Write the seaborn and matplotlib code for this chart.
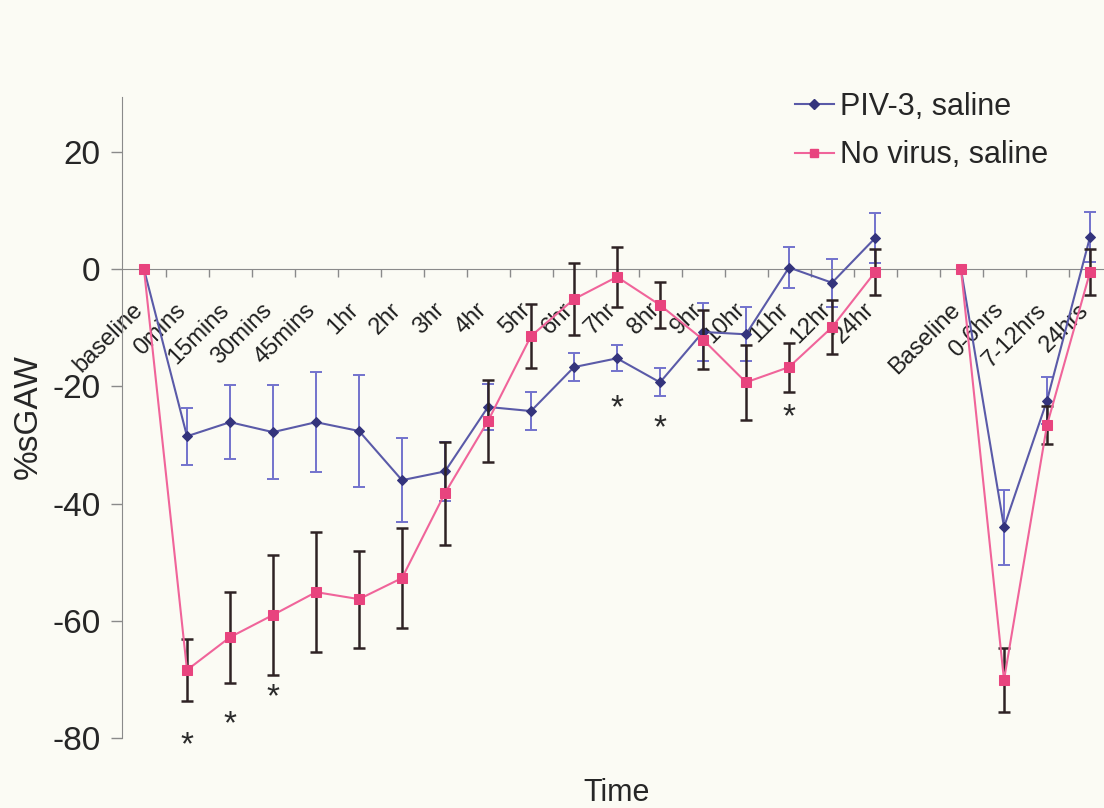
import numpy as np
import pandas as pd
import seaborn as sns
import matplotlib.pyplot as plt
from matplotlib.lines import Line2D

# dados (índice 18 é o espaço vazio entre os dois grupos)
categorias = ["baseline", "0mins", "15mins", "30mins", "45mins", "1hr", "2hr", "3hr",
              "4hr", "5hr", "6hr", "7hr", "8hr", "9hr", "10hr", "11hr", "12hr", "24hr",
              "", "Baseline", "0-6hrs", "7-12hrs", "24hrs"]
trecho = [0] * 18 + [-1] + [1] * 4

piv = [0, -28.5, -26.1, -27.8, -26.1, -27.6, -36.0, -34.5, -23.5, -24.2, -16.7, -15.2,
       -19.3, -10.7, -11.1, 0.3, -2.3, 5.3, np.nan, 0, -44.0, -22.4, 5.5]
piv_err = [0, 4.9, 6.3, 8.0, 8.5, 9.6, 7.2, 5.0, 4.0, 3.3, 2.4, 2.2,
           2.4, 4.9, 4.6, 3.5, 4.1, 4.3, np.nan, 0, 6.4, 4.0, 4.3]

sem_virus = [0, -68.4, -62.8, -59.0, -55.1, -56.3, -52.7, -38.2, -25.9, -11.4, -5.1, -1.3,
             -6.1, -12.0, -19.3, -16.7, -9.9, -0.5, np.nan, 0, -70.1, -26.6, -0.5]
sem_virus_err = [0, 5.3, 7.8, 10.2, 10.2, 8.3, 8.5, 8.8, 7.0, 5.4, 6.2, 5.1,
                 4.0, 5.1, 6.4, 4.2, 4.6, 3.9, np.nan, 0, 5.4, 3.3, 3.9]

# asteriscos de significância
ast_idx = [1, 2, 3, 11, 12, 15, 20]
ast_y = [-80, -76.3, -71.8, -22.4, -25.8, -24.0, -82.0]

plt.rcParams['font.family'] = ['Liberation Sans', 'DejaVu Sans']
plt.rcParams['axes.unicode_minus'] = False

pos = np.arange(len(categorias))
df = pd.DataFrame({'pos': pos, 'trecho': trecho,
                   'piv': piv, 'piv_err': piv_err,
                   'sv': sem_virus, 'sv_err': sem_virus_err})
df = df[df['trecho'] >= 0]

fundo = '#fbfbf4'
fig = plt.figure(figsize=(11.04, 8.08), dpi=100, facecolor=fundo)
ax = fig.add_axes([122.5 / 1104, 70 / 808, (1104 - 122.5) / 1104, (738 - 97) / 808])
ax.set_facecolor(fundo)

cor_piv, cor_piv_mk, cor_piv_err = '#5a5aa8', '#34347c', '#7272cc'
cor_sv, cor_sv_mk, cor_sv_err = '#f0649a', '#e8447e', '#2e2224'

m = df['piv_err'] > 0
ax.errorbar(df['pos'][m], df['piv'][m], yerr=df['piv_err'][m], fmt='none',
            ecolor=cor_piv_err, elinewidth=1.4, capsize=4.3, capthick=1.4, zorder=2)
sns.lineplot(data=df, x='pos', y='piv', units='trecho', estimator=None, ax=ax,
             color=cor_piv, linewidth=1.5, marker='D', markersize=5,
             markerfacecolor=cor_piv_mk, markeredgecolor=cor_piv_mk, zorder=3)
m = df['sv_err'] > 0
ax.errorbar(df['pos'][m], df['sv'][m], yerr=df['sv_err'][m], fmt='none',
            ecolor=cor_sv_err, elinewidth=1.8, capsize=4, capthick=1.8, zorder=4)
sns.lineplot(data=df, x='pos', y='sv', units='trecho', estimator=None, ax=ax,
             color=cor_sv, linewidth=1.5, marker='s', markersize=6.5,
             markerfacecolor=cor_sv_mk, markeredgecolor=cor_sv_mk, zorder=5)

for i, y in zip(ast_idx, ast_y):
    ax.annotate('*', (i, y), xytext=(0, -12), textcoords='offset points',
                ha='center', va='baseline', fontsize=24, color='#2a2a2a')

ax.set_xlim(-0.5, (1104 - 122.5) / 43 - 0.5)
ax.set_ylim(-80, 29.4)

for s in ['top', 'right']:
    ax.spines[s].set_visible(False)
ax.spines['left'].set_color('#8a8a8a')
ax.spines['bottom'].set_color('#8a8a8a')
ax.spines['bottom'].set_position(('data', 0))

ax.set_yticks([-80, -60, -40, -20, 0, 20])
ax.tick_params(axis='y', labelsize=24, labelcolor='#262626', color='#8a8a8a',
               length=8, width=1, pad=8)

ax.set_xticks(pos - 0.1)
ax.set_xticklabels(categorias, rotation=45, ha='right', va='center',
                   rotation_mode='anchor', fontsize=17, color='#202020')
ax.tick_params(axis='x', which='major', length=0, pad=27)
ax.set_xticks(pos[:-1] + 0.5, minor=True)
ax.tick_params(axis='x', which='minor', length=6, width=1, color='#8a8a8a', direction='out')

ax.set_xlabel('')
ax.set_ylabel('')
fig.text(28 / 1104, 1 - 417 / 808, '%sGAW', rotation=90, ha='center', va='center',
         fontsize=24, color='#262626')
fig.text(617 / 1104, 1 - 793 / 808, 'Time', ha='center', va='center',
         fontsize=22, color='#262626')

handles = [Line2D([], [], color=cor_piv, marker='D', markersize=5, linewidth=1.5,
                  markerfacecolor=cor_piv_mk, markeredgecolor=cor_piv_mk),
           Line2D([], [], color=cor_sv, marker='s', markersize=6, linewidth=1.5,
                  markerfacecolor=cor_sv_mk, markeredgecolor=cor_sv_mk)]
ax.legend(handles, ['PIV-3, saline', 'No virus, saline'], loc='upper left',
          bbox_to_anchor=(767 / 1104, 1 - 64 / 808), bbox_transform=fig.transFigure,
          frameon=False, fontsize=22, handlelength=1.3, handletextpad=0.2,
          labelspacing=0.62, labelcolor='#262626')

fig.savefig('out.png', dpi=100, facecolor=fundo)
